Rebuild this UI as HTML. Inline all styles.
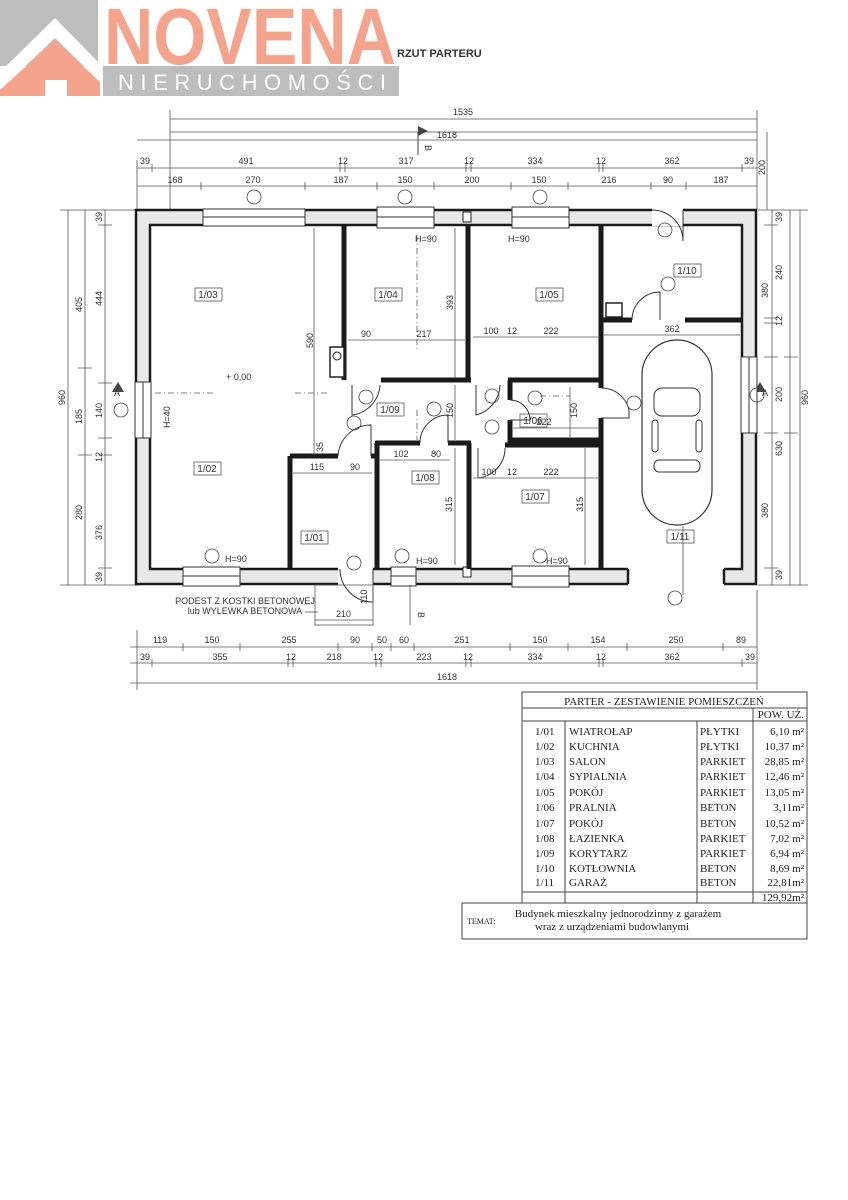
<!DOCTYPE html>
<html><head><meta charset="utf-8"><style>
html,body{margin:0;padding:0;background:#fff;}
svg{display:block;font-family:"Liberation Sans",sans-serif;}
.t{font-family:"Liberation Serif",serif;font-size:11px;fill:#222;}
.d{font-size:9px;fill:#333;}
.dl{stroke:#555;stroke-width:0.8;fill:none;}
.w{stroke:#1a1a1a;stroke-width:5;fill:none;}
.lab{font-size:10px;fill:#333;}
</style></head><body>
<svg width="848" height="1200" viewBox="0 0 848 1200">
<!-- LOGO -->
<rect x="0" y="0" width="98" height="66" fill="#bdbdbd"/>
<polygon points="0,72 55,18 100,64 100,82 55,38 0,90" fill="#fff"/>
<polygon points="0,96 0,90 55,40 100,82 100,96" fill="#f4a48c"/>
<rect x="45" y="80" width="22" height="16" fill="#fff"/>
<text x="104" y="64" font-size="80" font-weight="bold" fill="#f4a48c" textLength="292" lengthAdjust="spacingAndGlyphs" style="font-family:'Liberation Sans Narrow','Liberation Sans',sans-serif">NOVENA</text>
<rect x="103" y="66" width="296" height="30" fill="#bdbdbd"/>
<text x="118" y="90" font-size="22" fill="#fff" textLength="268" lengthAdjust="spacing">NIERUCHOMOŚCI</text>
<text x="397" y="57" font-size="11" font-weight="bold" fill="#333">RZUT PARTERU</text>

<!-- top dimensions -->
<g class="dl">
<line x1="170" y1="119" x2="757" y2="119"/><line x1="170" y1="110" x2="170" y2="210"/><line x1="757" y1="110" x2="757" y2="210"/>
<line x1="170" y1="132" x2="757" y2="132"/>
<line x1="137" y1="140" x2="757" y2="140"/>
<line x1="137" y1="168" x2="757" y2="168"/>
<line x1="137" y1="186" x2="757" y2="186"/>
<line x1="137" y1="160" x2="137" y2="210"/>
<path d="M152,164v8M340,164v8M345,164v8M466,164v8M471,164v8M599,164v8M603,164v8M742,164v8"/>
<path d="M201,182v8M305,182v8M377,182v8M434,182v8M511,182v8M568,182v8M651,182v8M686,182v8"/>
<line x1="767" y1="132" x2="767" y2="210"/>
</g>
<line x1="418" y1="132" x2="418" y2="155" stroke="#444" stroke-width="1"/>
<polygon points="418,126 428,131 418,136" fill="#444"/>
<text x="428" y="148" class="d" transform="rotate(90 428 145)">B</text>
<g class="d" text-anchor="middle">
<text x="463" y="115">1535</text><text x="447" y="138">1618</text>
<text x="145" y="164">39</text><text x="246" y="164">491</text><text x="343" y="164">12</text><text x="406" y="164">317</text>
<text x="469" y="164">12</text><text x="535" y="164">334</text><text x="601" y="164">12</text><text x="672" y="164">362</text><text x="749" y="164">39</text>
<text x="175" y="183">168</text><text x="253" y="183">270</text><text x="341" y="183">187</text><text x="405" y="183">150</text>
<text x="472" y="183">200</text><text x="539" y="183">150</text><text x="609" y="183">216</text><text x="668" y="183">90</text><text x="721" y="183">187</text>
</g>
<text x="765" y="175" class="d" transform="rotate(-90 765 175)">200</text>

<!-- left dims -->
<g class="dl">
<line x1="68" y1="210" x2="68" y2="585"/><line x1="85" y1="210" x2="85" y2="585"/><line x1="105" y1="210" x2="105" y2="585"/>
<path d="M60,210h80M60,585h80M78,368h14M98,225h14M98,383h14M98,438h14M98,455h14M98,568h14M78,455h14"/>
</g>
<g class="d">
<text x="65" y="405" transform="rotate(-90 65 405)">960</text>
<text x="82" y="312" transform="rotate(-90 82 312)">405</text>
<text x="82" y="424" transform="rotate(-90 82 424)">185</text>
<text x="82" y="520" transform="rotate(-90 82 520)">280</text>
<text x="102" y="222" transform="rotate(-90 102 222)">39</text>
<text x="102" y="306" transform="rotate(-90 102 306)">444</text>
<text x="102" y="418" transform="rotate(-90 102 418)">140</text>
<text x="102" y="462" transform="rotate(-90 102 462)">12</text>
<text x="102" y="540" transform="rotate(-90 102 540)">376</text>
<text x="102" y="582" transform="rotate(-90 102 582)">39</text>
</g>
<text x="114" y="396" class="d">A</text>
<polygon points="118,382 124,392 112,392" fill="#444"/>

<!-- right dims -->
<g class="dl">
<line x1="772" y1="210" x2="772" y2="585"/><line x1="790" y1="210" x2="790" y2="585"/><line x1="800" y1="210" x2="800" y2="585"/>
<path d="M764,225h14M764,318h14M764,323h14M764,357h14M764,433h14M764,568h14M784,357h14M784,433h14M758,210h50M758,585h50"/>
</g>
<g class="d">
<text x="782" y="222" transform="rotate(-90 782 222)">39</text>
<text x="782" y="280" transform="rotate(-90 782 280)">240</text>
<text x="782" y="326" transform="rotate(-90 782 326)">12</text>
<text x="782" y="402" transform="rotate(-90 782 402)">200</text>
<text x="782" y="456" transform="rotate(-90 782 456)">630</text>
<text x="782" y="580" transform="rotate(-90 782 580)">39</text>
<text x="768" y="298" transform="rotate(-90 768 298)">380</text>
<text x="768" y="518" transform="rotate(-90 768 518)">380</text>
<text x="808" y="405" transform="rotate(-90 808 405)">960</text>
</g>
<text x="762" y="396" class="d">A</text>
<polygon points="760,382 766,392 754,392" fill="#444"/>

<!-- WALLS outer -->
<path d="M136,210H756V584H136Z M150,225V569H742V225Z" fill="#e8e8e8" fill-rule="evenodd" stroke="#1a1a1a" stroke-width="2.5"/>
<!-- windows / openings -->
<g fill="#fff" stroke="#333" stroke-width="1">
<rect x="203" y="209" width="102" height="17"/><line x1="203" y1="217" x2="305" y2="217"/>
<rect x="377" y="207" width="57" height="21"/><line x1="377" y1="217" x2="434" y2="217"/>
<rect x="512" y="207" width="57" height="21"/><line x1="512" y1="217" x2="569" y2="217"/>
<rect x="652" y="208" width="31" height="18" stroke="none"/>
<rect x="135" y="382" width="16" height="56"/><line x1="143" y1="382" x2="143" y2="438"/>
<rect x="741" y="357" width="16" height="76"/><line x1="749" y1="357" x2="749" y2="433"/>
<rect x="183" y="567" width="57" height="19"/><line x1="183" y1="576" x2="240" y2="576"/>
<rect x="391" y="567" width="25" height="19"/><line x1="391" y1="576" x2="416" y2="576"/>
<rect x="512" y="566" width="57" height="21"/><line x1="512" y1="576" x2="569" y2="576"/>
<rect x="338" y="567" width="35" height="19" stroke="none"/>
<rect x="628" y="567" width="96" height="19" stroke="none"/>
</g>
<line x1="628" y1="569" x2="628" y2="584" stroke="#1a1a1a" stroke-width="2.5"/>
<line x1="724" y1="569" x2="724" y2="584" stroke="#1a1a1a" stroke-width="2.5"/>
<rect x="463" y="212" width="8" height="10" fill="#fff" stroke="#222"/>
<rect x="463" y="567" width="8" height="10" fill="#fff" stroke="#222"/>

<!-- interior walls -->
<g class="w">
<path d="M344,225V380"/>
<path d="M381,380H471"/>
<path d="M468,225V380"/>
<path d="M508,380H601"/>
<path d="M601,225V388M601,418V569"/>
<path d="M601,320H632M685,320H742"/>
<path d="M510,380V400M510,420V440H601"/>
<path d="M505,445H601"/>
<path d="M375,443H420M448,443H471"/>
<path d="M377,443V569"/>
<path d="M469,443V569"/>
<path d="M290,456H338M371,456H377"/>
<path d="M290,456V569"/>
</g>
<rect x="330" y="347" width="14" height="30" fill="#fff" stroke="#222" stroke-width="1.5"/>
<circle cx="337" cy="356" r="4" fill="none" stroke="#222"/>
<rect x="606" y="303" width="16" height="14" fill="#fff" stroke="#222" stroke-width="1.5"/>

<!-- doors -->
<g fill="none" stroke="#333" stroke-width="1">
<path d="M352,385V415 A32,32 0 0,0 380,385"/>
<path d="M476,385V415 A32,32 0 0,0 500,385"/>
<path d="M338,456 A33,33 0 0,1 371,425V456"/>
<path d="M420,443 A28,28 0 0,1 448,415V443"/>
<path d="M478,448V478 A30,30 0 0,0 505,448"/>
<path d="M510,400 A20,20 0 0,1 530,420H510"/>
<path d="M601,388 A28,28 0 0,1 629,410V418H601"/>
<path d="M632,320 A28,28 0 0,1 660,292V320"/>
<path d="M652,210 A31,31 0 0,1 683,241V210"/>
<path d="M340,569 A33,33 0 0,0 373,602V569"/>
</g>

<!-- car -->
<rect x="642" y="340" width="70" height="185" rx="35" fill="none" stroke="#333" stroke-width="1.2"/>
<rect x="654" y="388" width="46" height="28" rx="8" fill="none" stroke="#333"/>
<rect x="654" y="460" width="46" height="12" rx="5" fill="none" stroke="#333"/>
<rect x="652" y="420" width="6" height="32" rx="3" fill="none" stroke="#333"/>
<rect x="696" y="420" width="6" height="32" rx="3" fill="none" stroke="#333"/>

<!-- interior dim lines -->
<g class="dl">
<line x1="314" y1="228" x2="314" y2="455"/>
<line x1="455" y1="228" x2="455" y2="378"/>
<line x1="348" y1="340" x2="465" y2="340"/>
<line x1="473" y1="337" x2="600" y2="337"/>
<line x1="604" y1="335" x2="740" y2="335"/>
<line x1="455" y1="385" x2="455" y2="440"/>
<line x1="570" y1="387" x2="570" y2="437"/>
<line x1="513" y1="428" x2="600" y2="428"/>
<line x1="293" y1="473" x2="372" y2="473"/>
<line x1="380" y1="460" x2="450" y2="460"/>
<line x1="473" y1="478" x2="600" y2="478"/>
<line x1="455" y1="448" x2="455" y2="565"/>
<line x1="585" y1="448" x2="585" y2="565"/>
<line x1="155" y1="393" x2="215" y2="393" stroke-dasharray="6,3,1,3"/>
<line x1="295" y1="393" x2="330" y2="393" stroke-dasharray="6,3,1,3"/>
<line x1="417" y1="235" x2="417" y2="352" stroke-dasharray="6,3,1,3"/>
<line x1="417" y1="410" x2="417" y2="440" stroke-dasharray="6,3,1,3"/>
<line x1="540" y1="396" x2="570" y2="396" stroke-dasharray="6,3,1,3"/>
<line x1="683" y1="526" x2="683" y2="595"/>
</g>
<g class="d" text-anchor="middle">
<text x="366" y="337">90</text><text x="424" y="337">217</text>
<text x="491" y="334">100</text><text x="512" y="334">12</text><text x="551" y="334">222</text>
<text x="672" y="332">362</text>
<text x="544" y="425">222</text>
<text x="317" y="470">115</text><text x="355" y="470">90</text>
<text x="401" y="457">102</text><text x="436" y="457">80</text>
<text x="489" y="475">100</text><text x="512" y="475">12</text><text x="551" y="475">222</text>
</g>
<g class="d">
<text x="313" y="348" transform="rotate(-90 313 348)">590</text>
<text x="453" y="310" transform="rotate(-90 453 310)">393</text>
<text x="453" y="418" transform="rotate(-90 453 418)">150</text>
<text x="577" y="418" transform="rotate(-90 577 418)">150</text>
<text x="452" y="512" transform="rotate(-90 452 512)">315</text>
<text x="583" y="512" transform="rotate(-90 583 512)">315</text>
<text x="323" y="452" transform="rotate(-90 323 452)">35</text>
</g>

<!-- room labels -->
<g class="lab" text-anchor="middle">
<text x="208" y="298">1/03</text><text x="388" y="298">1/04</text><text x="549" y="298">1/05</text><text x="687" y="274">1/10</text>
<text x="390" y="413">1/09</text><text x="533" y="424">1/06</text><text x="207" y="472">1/02</text><text x="425" y="481">1/08</text>
<text x="535" y="500">1/07</text><text x="314" y="541">1/01</text><text x="680" y="540">1/11</text>
</g>
<g fill="none" stroke="#555" stroke-width="0.8">
<rect x="195" y="288" width="27" height="13"/><rect x="375" y="288" width="27" height="13"/><rect x="536" y="288" width="27" height="13"/>
<rect x="674" y="264" width="27" height="13"/><rect x="377" y="403" width="27" height="13"/><rect x="520" y="414" width="27" height="13"/>
<rect x="194" y="462" width="27" height="13"/><rect x="412" y="471" width="27" height="13"/><rect x="522" y="490" width="27" height="13"/>
<rect x="301" y="531" width="27" height="13"/><rect x="667" y="530" width="27" height="13"/>
</g>
<g class="d">
<text x="415" y="242">H=90</text><text x="508" y="242">H=90</text>
<text x="225" y="562">H=90</text><text x="416" y="564">H=90</text><text x="546" y="564">H=90</text>
<text x="170" y="428" transform="rotate(-90 170 428)">H=40</text>
<text x="226" y="380">+ 0,00</text>
</g>
<!-- door tags -->
<g fill="none" stroke="#444" stroke-width="0.8">
<circle cx="254" cy="197" r="7"/><circle cx="405" cy="197" r="7"/><circle cx="540" cy="197" r="7"/>
<circle cx="665" cy="230" r="7"/><circle cx="668" cy="284" r="7"/>
<circle cx="366" cy="397" r="7"/><circle cx="492" cy="396" r="7"/><circle cx="535" cy="398" r="7"/>
<circle cx="434" cy="409" r="7"/><circle cx="354" cy="423" r="7"/><circle cx="492" cy="427" r="7"/>
<circle cx="634" cy="403" r="7"/><circle cx="121" cy="410" r="7"/><circle cx="757" cy="395" r="7"/>
<circle cx="212" cy="556" r="7"/><circle cx="402" cy="556" r="7"/><circle cx="540" cy="556" r="7"/>
<circle cx="354" cy="563" r="7"/><circle cx="675" cy="598" r="7"/>
</g>

<!-- landing -->
<g class="dl">
<rect x="315" y="585" width="58" height="40"/>
<line x1="315" y1="620" x2="373" y2="620"/>
<line x1="305" y1="612" x2="318" y2="612"/>
<line x1="410" y1="585" x2="410" y2="625"/>
</g>
<text x="336" y="617" class="d">210</text>
<text x="367" y="604" class="d" transform="rotate(-90 367 604)">110</text>
<text x="418" y="612" class="d" transform="rotate(90 418 612)">B</text>
<text x="245" y="604" class="d" text-anchor="middle">PODEST Z KOSTKI BETONOWEJ</text>
<text x="245" y="614" class="d" text-anchor="middle">lub WYLEWKA BETONOWA</text>

<!-- bottom dims -->
<g class="dl">
<line x1="130" y1="647" x2="757" y2="647"/><line x1="130" y1="663" x2="757" y2="663"/><line x1="130" y1="683" x2="757" y2="683"/>
<line x1="137" y1="630" x2="137" y2="690"/><line x1="757" y1="590" x2="757" y2="690"/>
<path d="M183,643v8M240,643v8M338,643v8M372,643v8M391,643v8M414,643v8M510,643v8M568,643v8M627,643v8M723,643v8"/>
<path d="M152,659v8M288,659v8M293,659v8M376,659v8M381,659v8M466,659v8M471,659v8M599,659v8M603,659v8M742,659v8"/>
</g>
<g class="d" text-anchor="middle">
<text x="160" y="643">119</text><text x="212" y="643">150</text><text x="289" y="643">255</text><text x="355" y="643">90</text>
<text x="382" y="643">50</text><text x="404" y="643">60</text><text x="462" y="643">251</text><text x="540" y="643">150</text>
<text x="598" y="643">154</text><text x="676" y="643">250</text><text x="741" y="643">89</text>
<text x="145" y="660">39</text><text x="220" y="660">355</text><text x="291" y="660">12</text><text x="334" y="660">218</text>
<text x="378" y="660">12</text><text x="424" y="660">223</text><text x="468" y="660">12</text><text x="535" y="660">334</text>
<text x="601" y="660">12</text><text x="672" y="660">362</text><text x="750" y="660">39</text>
<text x="447" y="680">1618</text>
</g>

<!-- TABLE -->
<g stroke="#444" stroke-width="1" fill="none">
<rect x="522" y="692" width="285" height="211"/>
<line x1="522" y1="708" x2="807" y2="708"/>
<line x1="522" y1="721" x2="807" y2="721"/>
<line x1="565" y1="721" x2="565" y2="903"/>
<line x1="697" y1="721" x2="697" y2="903"/>
<line x1="753" y1="708" x2="753" y2="903"/>
<line x1="522" y1="892" x2="807" y2="892"/>
<rect x="462" y="903" width="345" height="36"/>
</g>
<g class="t">
<text x="664" y="705" text-anchor="middle">PARTER - ZESTAWIENIE POMIESZCZEŃ</text>
<text x="804" y="718" text-anchor="end">POW. UŻ.</text>
<text x="535" y="735">1/01</text><text x="569" y="735">WIATROŁAP</text><text x="700" y="735">PŁYTKI</text><text x="804" y="735" text-anchor="end">6,10 m²</text>
<text x="535" y="750">1/02</text><text x="569" y="750">KUCHNIA</text><text x="700" y="750">PŁYTKI</text><text x="804" y="750" text-anchor="end">10,37 m²</text>
<text x="535" y="765">1/03</text><text x="569" y="765">SALON</text><text x="700" y="765">PARKIET</text><text x="804" y="765" text-anchor="end">28,85 m²</text>
<text x="535" y="780">1/04</text><text x="569" y="780">SYPIALNIA</text><text x="700" y="780">PARKIET</text><text x="804" y="780" text-anchor="end">12,46 m²</text>
<text x="535" y="796">1/05</text><text x="569" y="796">POKÓJ</text><text x="700" y="796">PARKIET</text><text x="804" y="796" text-anchor="end">13,05 m²</text>
<text x="535" y="811">1/06</text><text x="569" y="811">PRALNIA</text><text x="700" y="811">BETON</text><text x="804" y="811" text-anchor="end">3,11m²</text>
<text x="535" y="827">1/07</text><text x="569" y="827">POKÓJ</text><text x="700" y="827">BETON</text><text x="804" y="827" text-anchor="end">10,52 m²</text>
<text x="535" y="842">1/08</text><text x="569" y="842">ŁAZIENKA</text><text x="700" y="842">PARKIET</text><text x="804" y="842" text-anchor="end">7,02 m²</text>
<text x="535" y="857">1/09</text><text x="569" y="857">KORYTARZ</text><text x="700" y="857">PARKIET</text><text x="804" y="857" text-anchor="end">6,94 m²</text>
<text x="535" y="872">1/10</text><text x="569" y="872">KOTŁOWNIA</text><text x="700" y="872">BETON</text><text x="804" y="872" text-anchor="end">8,69 m²</text>
<text x="535" y="886">1/11</text><text x="569" y="886">GARAŻ</text><text x="700" y="886">BETON</text><text x="804" y="886" text-anchor="end">22,81m²</text>
<text x="804" y="901" text-anchor="end">129,92m²</text>
<text x="467" y="924" font-size="8">TEMAT:</text>
<text x="618" y="917" text-anchor="middle">Budynek mieszkalny jednorodzinny z garażem</text>
<text x="612" y="930" text-anchor="middle">wraz z urządzeniami budowlanymi</text>
</g>
</svg>
</body></html>
